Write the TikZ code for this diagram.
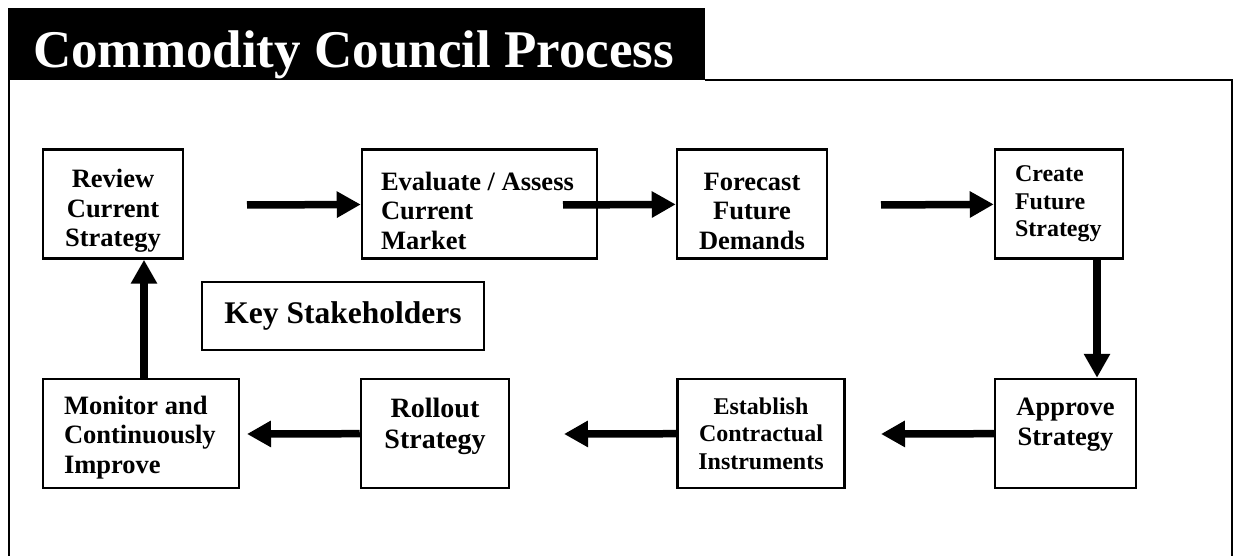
\documentclass[tikz,border=0pt]{standalone}
\usepackage{fontspec}
\setmainfont{Liberation Serif}
\usetikzlibrary{arrows.meta}

\tikzset{
  stepbox/.style={draw, line width=2.5pt, minimum height=109pt, inner sep=0pt, align=center,
    font=\bfseries\fontsize{26.5}{29.5}\selectfont},
  smallbox/.style={stepbox, font=\bfseries\fontsize{24}{27.5}\selectfont},
  flow/.style={line width=7.5pt, -{Triangle[length=24pt,width=25pt]}},
}

\begin{document}
\begin{tikzpicture}[x=1pt,y=-1pt]
                \useasboundingbox (0,0) rectangle (1235,556);
                % heading and frame
                \node[fill=black, text=white, anchor=north west, minimum width=697pt, inner xsep=25pt, inner ysep=0pt,
                      text width=647pt, align=flush left, text height=59pt, text depth=13pt,
                      font=\bfseries\fontsize{53}{56}\selectfont] (title) at (8,8) {\mbox{Commodity Council Process}};
                \draw[line width=2pt] (9,80) -- (9,560);
                \draw[line width=2pt] (705,80) -- (1232,80) -- (1232,560);

                \node[stepbox, minimum width=140pt] (review) at (113,204) {\mbox{}\\[2.5pt]Review\\Current\\Strategy};
                \node[stepbox, minimum width=235pt, text width=197pt, align=flush left] (evaluate) at (479.5,204) {\mbox{}\\[2.5pt]\mbox{Evaluate / Assess}\\Current\\Market};
                \node[stepbox, minimum width=150pt] (forecast) at (752,204) {\mbox{}\\[2.5pt]Forecast\\Future\\Demands};
                \node[smallbox, minimum width=128pt, text width=88pt, align=flush left] (create) at (1059,204) {Create\\Future\\Strategy};
                \node[stepbox, minimum width=196pt, text width=154pt, align=flush left] (monitor) at (141,433.5) {\mbox{}\\[-3.5pt]\mbox{Monitor and}\\\mbox{Continuously}\\Improve};
                \node[stepbox, minimum width=148pt, font=\bfseries\fontsize{28}{31}\selectfont] (rollout) at (435,433.5) {Rollout\\Strategy\\[-11pt]\mbox{}};
                \node[smallbox, minimum width=167pt] (establish) at (761,433.5) {Establish\\Contractual\\Instruments};
                \node[stepbox, minimum width=141pt, font=\bfseries\fontsize{26.5}{30}\selectfont] (approve) at (1065.5,433.5) {Approve\\Strategy\\[-6pt]\mbox{}};
                \node[stepbox, minimum width=282pt, minimum height=68pt, font=\bfseries\fontsize{31.5}{34}\selectfont] (key) at (343,316) {Key Stakeholders};

                \coordinate (revtail) at (247,205); \coordinate (evaltail) at (563,205); \coordinate (foretail) at (881,205);
                \coordinate (downx) at (1097,0); \coordinate (estip) at (881,434); \coordinate (rotip) at (564,434);
                \coordinate (montip) at (247,434); \coordinate (upx) at (144,0);

                \draw[flow] (revtail) -- (evaluate); \draw[flow] (evaltail) -- (forecast); \draw[flow] (foretail) -- (create);
                \draw[flow] (create.south -| downx) -- (approve.north -| downx);
                \draw[flow] (approve) -- (estip); \draw[flow] (establish) -- (rotip); \draw[flow] (rollout) -- (montip);
                \draw[flow] (monitor.north -| upx) -- (review.south -| upx);
\end{tikzpicture}
\end{document}
